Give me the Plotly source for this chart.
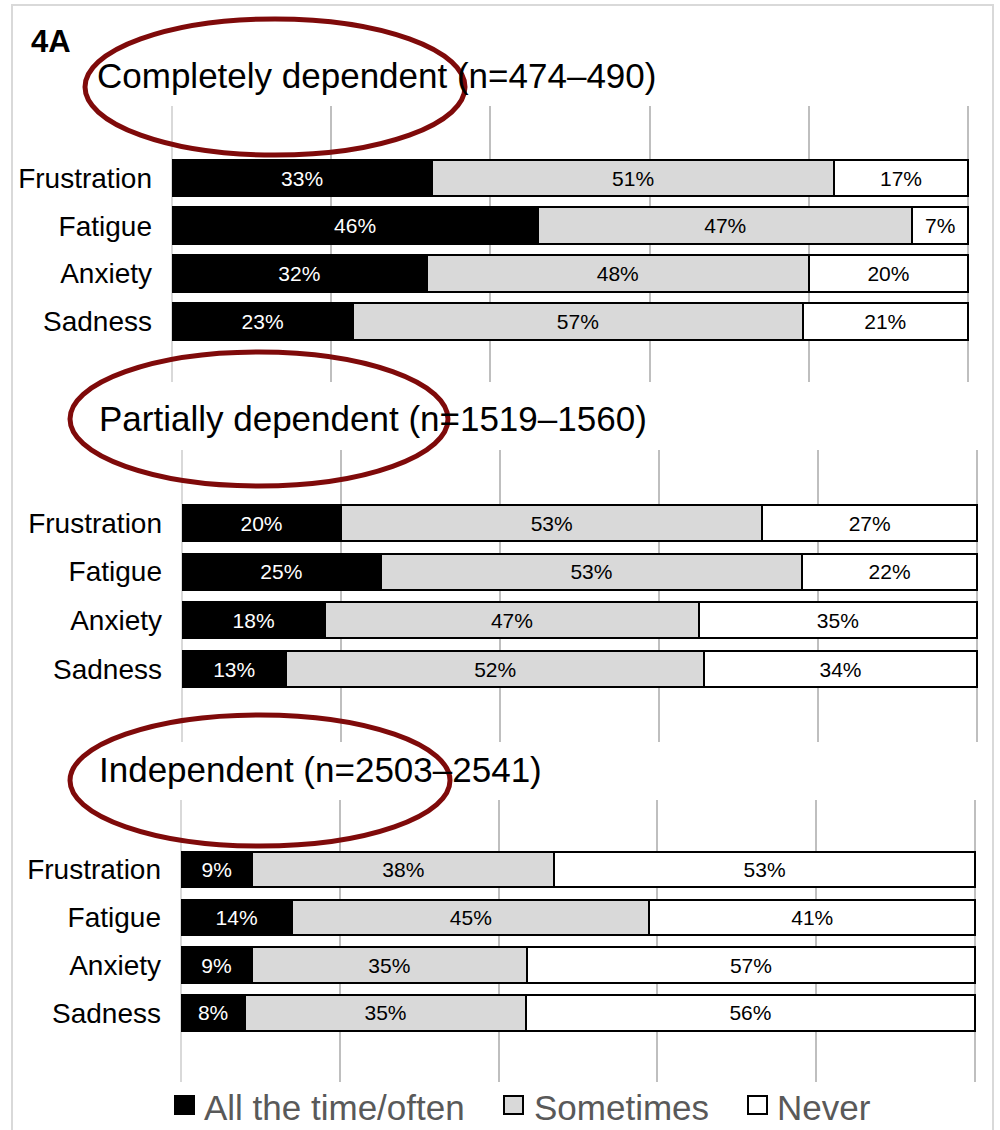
import plotly.graph_objects as go

# ---------------- data ----------------
categories = ["Frustration", "Fatigue", "Anxiety", "Sadness"]
series_names = ["All the time/often", "Sometimes", "Never"]

panel_titles = [
    "Completely dependent (n=474–490)",
    "Partially dependent (n=1519–1560)",
    "Independent (n=2503–2541)",
]

# values per panel: [often, sometimes, never] per category
completely_often = [33, 46, 32, 23]
completely_sometimes = [51, 47, 48, 57]
completely_never = [17, 7, 20, 21]

partially_often = [20, 25, 18, 13]
partially_sometimes = [53, 53, 47, 52]
partially_never = [27, 22, 35, 34]

independent_often = [9, 14, 9, 8]
independent_sometimes = [38, 45, 35, 35]
independent_never = [53, 41, 57, 56]

panels = [
    (completely_often, completely_sometimes, completely_never),
    (partially_often, partially_sometimes, partially_never),
    (independent_often, independent_sometimes, independent_never),
]

# ---------------- styling ----------------
W, H = 1000, 1130
FONT = "Liberation Sans, Arial, sans-serif"
fills = ["#000000", "#d9d9d9", "#ffffff"]
text_colors = ["#ffffff", "#000000", "#000000"]
XMAX = 100.3  # small headroom so the 100% gridline is drawn


def px(x):
    return x / W


def py(y):
    return 1 - y / H


# panel geometry in pixels: (x_left, x_right(=100%), y_top, y_bottom, range_top, range_bottom, bar_width)
geom = [
    (172, 968, 106, 382, -1.506, 4.266, 0.77),
    (182, 977, 450, 742, -1.50, 4.50, 0.74),
    (181, 975, 800, 1082, -1.454, 4.443, 0.74),
]

fig = go.Figure()

for p, (vals, g) in enumerate(zip(panels, geom)):
    xa = "x" if p == 0 else f"x{p+1}"
    ya = "y" if p == 0 else f"y{p+1}"
    totals = [sum(v[i] for v in vals) for i in range(len(categories))]
    for s, series in enumerate(vals):
        shares = [v / t * 100 for v, t in zip(series, totals)]
        fig.add_trace(go.Bar(
            orientation="h",
            y=categories,
            x=shares,
            name=series_names[s],
            marker=dict(color=fills[s], line=dict(color="#000000", width=2)),
            width=g[6],
            text=[f"{v}%" for v in series],
            textposition="inside",
            insidetextanchor="middle",
            textangle=0,
            textfont=dict(family=FONT, size=21, color=text_colors[s]),
            showlegend=False,
            xaxis=xa,
            yaxis=ya,
            hoverinfo="skip",
        ))

layout = dict(
    width=W,
    height=H,
    autosize=False,
    margin=dict(l=0, r=0, t=0, b=0, pad=0),
    paper_bgcolor="white",
    plot_bgcolor="white",
    barmode="stack",
    font=dict(family=FONT, color="#000000"),
)

for p, g in enumerate(geom):
    xk = "xaxis" if p == 0 else f"xaxis{p+1}"
    yk = "yaxis" if p == 0 else f"yaxis{p+1}"
    ya = "y" if p == 0 else f"y{p+1}"
    xa = "x" if p == 0 else f"x{p+1}"
    x_right = g[0] + (g[1] - g[0]) * XMAX / 100
    layout[xk] = dict(
        domain=[px(g[0]), px(x_right)],
        anchor=ya,
        range=[0, XMAX],
        dtick=20,
        showgrid=True,
        gridcolor="#bfbfbf",
        gridwidth=2,
        zeroline=True,
        zerolinecolor="#d9d9d9",
        zerolinewidth=2,
        showticklabels=False,
        ticks="",
        showline=False,
        fixedrange=True,
    )
    layout[yk] = dict(
        domain=[py(g[3]), py(g[2])],
        anchor=xa,
        type="category",
        categoryorder="array",
        categoryarray=categories,
        range=[g[5], g[4]],
        showgrid=False,
        zeroline=False,
        showline=False,
        ticks="",
        ticklabelstandoff=19,
        tickfont=dict(family=FONT, size=28, color="#000000"),
        fixedrange=True,
    )

fig.update_layout(**layout)

# ---------------- annotations ----------------
annotations = []
annotations.append(dict(
    text="<b>4A</b>", x=px(29), y=py(41), xref="paper", yref="paper",
    xanchor="left", yanchor="middle", showarrow=False,
    font=dict(family=FONT, size=31, color="#000000"),
))
title_pos = [(95, 76), (97, 419), (97, 769)]
for t, (tx, ty) in zip(panel_titles, title_pos):
    annotations.append(dict(
        text=t, x=px(tx), y=py(ty), xref="paper", yref="paper",
        xanchor="left", yanchor="middle", showarrow=False,
        font=dict(family=FONT, size=35, color="#000000"),
    ))

# legend (manual)
legend_items = [(175, 194, 202), (504, 523, 532), (748, 767, 775)]
shapes = []
for (x0, x1, tx), name, fill in zip(legend_items, series_names, fills):
    shapes.append(dict(
        type="rect", xref="paper", yref="paper",
        x0=px(x0), x1=px(x1), y0=py(1114), y1=py(1096),
        fillcolor=fill, line=dict(color="#000000", width=2),
    ))
    annotations.append(dict(
        text=name, x=px(tx), y=py(1107), xref="paper", yref="paper",
        xanchor="left", yanchor="middle", showarrow=False,
        font=dict(family=FONT, size=35, color="#595959"),
    ))

# red ellipses around titles
ellipses = [(85, 465, 19, 155), (70, 448, 352, 486), (70, 450, 715, 846)]
for x0, x1, y0, y1 in ellipses:
    shapes.append(dict(
        type="circle", xref="paper", yref="paper",
        x0=px(x0), x1=px(x1), y0=py(y1), y1=py(y0),
        line=dict(color="#7f0a0a", width=5),
        fillcolor="rgba(0,0,0,0)",
        layer="above",
    ))

# outer light frame
shapes.append(dict(
    type="rect", xref="paper", yref="paper",
    x0=px(12), x1=px(993), y0=py(1140), y1=py(5),
    line=dict(color="#d9d9d9", width=2), fillcolor="rgba(0,0,0,0)",
    layer="below",
))

fig.update_layout(annotations=annotations, shapes=shapes)

fig.write_html(
    "out.html",
    config={"displayModeBar": False},
    post_script="document.body.style.margin='0';document.body.style.overflow='hidden';",
)
